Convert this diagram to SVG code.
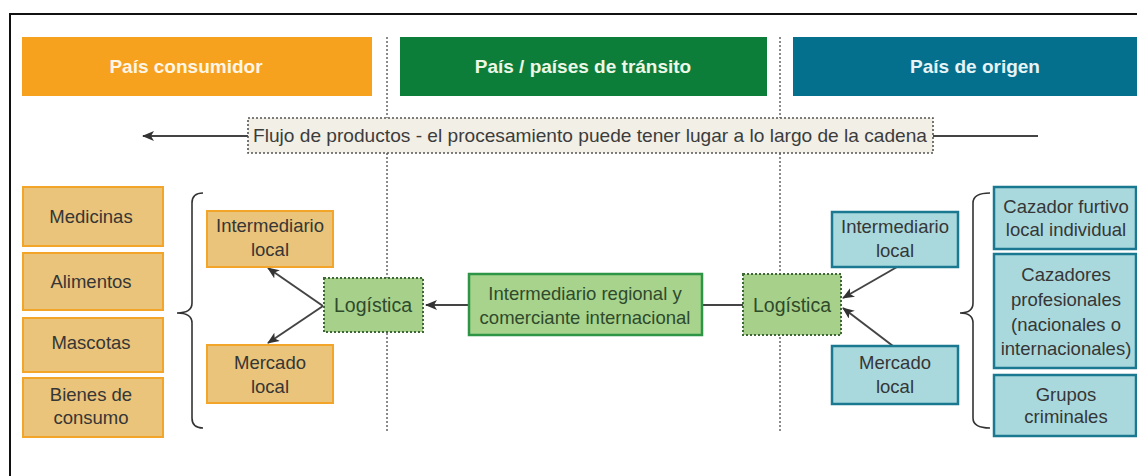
<svg xmlns="http://www.w3.org/2000/svg" width="1137" height="476" viewBox="0 0 1137 476">
<defs>
<marker id="ah" viewBox="0 0 12 10" refX="11" refY="5" markerWidth="12" markerHeight="10" markerUnits="userSpaceOnUse" orient="auto">
<path d="M0,0 L12,5 L0,10 L3,5 Z" fill="#333"/>
</marker>
<style>
text{font-family:"Liberation Sans",Arial,sans-serif;text-anchor:middle}
.hd{font-size:19px;font-weight:bold}
.t{font-size:18.5px;fill:#363636}
.tg{font-size:18.5px;fill:#2f4a2c}
.tl{font-size:19.5px;fill:#2f4a2c}
.ob{fill:#E9C47A;stroke:#F3A52A;stroke-width:2}
.bb{fill:#A9D9DD;stroke:#1A7890;stroke-width:2.5}
.lg{fill:#A7D18B;stroke:#3E6736;stroke-width:2;stroke-dasharray:2 2}
.sep{stroke:#666;stroke-width:1.5;stroke-dasharray:2 2;fill:none}
.con{stroke:#444;stroke-width:2;fill:none}
.br{stroke:#333;stroke-width:1.6;fill:none}
</style>
</defs>
<rect x="0" y="0" width="1137" height="476" fill="#fff"/>
<rect x="10" y="14" width="1145" height="480" fill="#fff" stroke="#111" stroke-width="2"/>

<g id="separators">
<line class="sep" x1="387" y1="37" x2="387" y2="432"/>
<line class="sep" x1="780" y1="37" x2="780" y2="432"/>
</g>

<g id="hdr-consumidor">
<rect x="22" y="37" width="350" height="59" fill="#F6A21E"/>
<text class="hd" x="186" y="73" fill="#FFF6E6">País consumidor</text>
</g>
<g id="hdr-transito">
<rect x="400" y="37" width="367" height="59" fill="#0C7E3A"/>
<text class="hd" x="583" y="73" fill="#ECF7E6">País / países de tránsito</text>
</g>
<g id="hdr-origen">
<rect x="793" y="37" width="364" height="59" fill="#05708D"/>
<text class="hd" x="975" y="73" fill="#E6F4F7">País de origen</text>
</g>

<g id="connectors">
<line class="con" x1="1038" y1="136" x2="143" y2="136" marker-end="url(#ah)"/>
<line class="con" x1="323" y1="306" x2="268" y2="268" marker-end="url(#ah)"/>
<line class="con" x1="323" y1="306" x2="268" y2="343" marker-end="url(#ah)"/>
<line class="con" x1="469" y1="305" x2="426" y2="305" marker-end="url(#ah)"/>
<line class="con" x1="702" y1="305" x2="743" y2="305"/>
<line class="con" x1="897" y1="267" x2="843" y2="298" marker-end="url(#ah)"/>
<line class="con" x1="893" y1="346" x2="843" y2="308" marker-end="url(#ah)"/>
</g>

<g id="flujo">
<rect x="248" y="118" width="685" height="35" fill="#F1EFE6" stroke="#555" stroke-width="1.6" stroke-dasharray="2 2"/>
<text x="590" y="142" style="font-size:19px;fill:#3c3c3c" textLength="674" lengthAdjust="spacingAndGlyphs">Flujo de productos - el procesamiento puede tener lugar a lo largo de la cadena</text>
</g>

<g id="medicinas"><rect class="ob" x="23" y="187" width="140" height="59"/><text class="t" x="91" y="223">Medicinas</text></g>
<g id="alimentos"><rect class="ob" x="23" y="253" width="140" height="57"/><text class="t" x="91" y="288">Alimentos</text></g>
<g id="mascotas"><rect class="ob" x="23" y="318" width="140" height="54"/><text class="t" x="91" y="349">Mascotas</text></g>
<g id="bienes"><rect class="ob" x="23" y="378" width="140" height="59"/><text class="t" x="91" y="401">Bienes de</text><text class="t" x="91" y="424">consumo</text></g>

<g id="brace-left"><path class="br" d="M203,193 Q192,193 192,203 L192,303 Q192,313 177,313 Q192,313 192,323 L192,418 Q192,428 203,428"/></g>

<g id="intermediario-local-izq"><rect class="ob" x="207" y="211" width="126" height="56"/><text class="t" x="270" y="232">Intermediario</text><text class="t" x="270" y="256">local</text></g>
<g id="mercado-local-izq"><rect class="ob" x="207" y="345" width="126" height="58"/><text class="t" x="270" y="369">Mercado</text><text class="t" x="270" y="393">local</text></g>
<g id="logistica-izq"><rect class="lg" x="324" y="278" width="99" height="54"/><text class="tl" x="373" y="312">Logística</text></g>

<g id="intermediario-regional"><rect x="469" y="274" width="233" height="61" fill="#A7D38C" stroke="#2E9446" stroke-width="2.5"/><text class="tg" x="585" y="300">Intermediario regional y</text><text class="tg" x="585" y="324">comerciante internacional</text></g>

<g id="logistica-der"><rect class="lg" x="743" y="274" width="98" height="61"/><text class="tl" x="792" y="312">Logística</text></g>
<g id="intermediario-local-der"><rect class="bb" x="832" y="212" width="126" height="55"/><text class="t" x="895" y="233">Intermediario</text><text class="t" x="895" y="257">local</text></g>
<g id="mercado-local-der"><rect class="bb" x="832" y="346" width="126" height="58"/><text class="t" x="895" y="369">Mercado</text><text class="t" x="895" y="393">local</text></g>

<g id="brace-right"><path class="br" d="M990,193 Q973,193 973,203 L973,303 Q973,313 960,313 Q973,313 973,323 L973,418 Q973,428 990,428"/></g>

<g id="cazador-furtivo"><rect class="bb" x="994" y="187" width="142" height="62"/><text class="t" x="1066" y="213">Cazador furtivo</text><text class="t" x="1066" y="236">local individual</text></g>
<g id="cazadores-profesionales"><rect class="bb" x="994" y="254" width="142" height="114"/><text class="t" x="1066" y="281">Cazadores</text><text class="t" x="1066" y="306">profesionales</text><text class="t" x="1066" y="331">(nacionales o</text><text class="t" x="1066" y="355">internacionales)</text></g>
<g id="grupos-criminales"><rect class="bb" x="994" y="375" width="142" height="61"/><text class="t" x="1066" y="401">Grupos</text><text class="t" x="1066" y="423">criminales</text></g>
</svg>
